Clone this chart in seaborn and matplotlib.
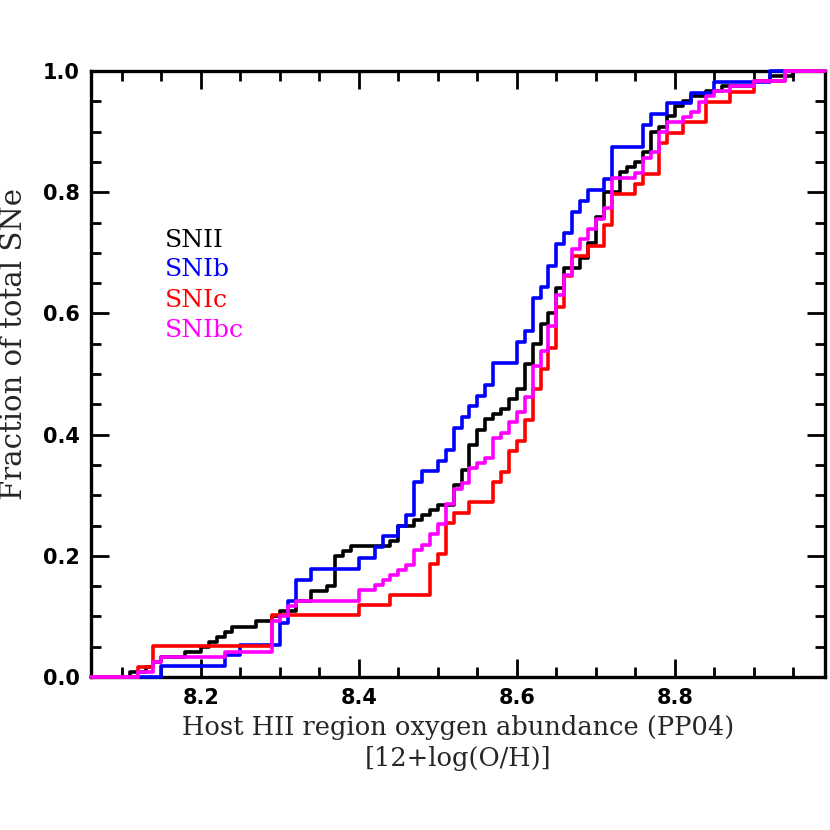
import numpy as np
import pandas as pd
import matplotlib
matplotlib.use("Agg")
import matplotlib.pyplot as plt
from matplotlib.ticker import MultipleLocator, FixedLocator
import seaborn as sns

# ---- data (abundance value, number of SNe at that value) ----
snii_vals = [8.11, 8.13, 8.14, 8.15, 8.18, 8.20, 8.21, 8.22, 8.23, 8.24, 8.27, 8.29, 8.30,
             8.32, 8.34, 8.36, 8.37, 8.38, 8.39, 8.44, 8.45, 8.47, 8.48, 8.49, 8.50, 8.52,
             8.53, 8.54, 8.55, 8.56, 8.57, 8.58, 8.59, 8.60, 8.61, 8.62, 8.63, 8.64, 8.65,
             8.66, 8.68, 8.69, 8.70, 8.71, 8.73, 8.74, 8.75, 8.76, 8.77, 8.78, 8.79, 8.80,
             8.81, 8.82, 8.84, 8.86, 8.90, 8.92, 8.95]
snii_counts = [1, 1, 1, 1, 1, 1, 1, 1, 1, 1, 1, 1, 1,
               2, 2, 1, 6, 1, 1, 1, 3, 1, 1, 1, 1, 4,
               3, 5, 3, 2, 1, 1, 2, 2, 5, 4, 4, 2, 5,
               4, 2, 3, 5, 5, 4, 1, 1, 2, 4, 1, 2, 2,
               1, 1, 1, 1, 1, 1, 1]

snib_vals = [8.15, 8.23, 8.25, 8.30, 8.31, 8.32, 8.34, 8.40, 8.42, 8.43, 8.45, 8.46, 8.47,
             8.48, 8.50, 8.51, 8.52, 8.53, 8.54, 8.55, 8.56, 8.57, 8.60, 8.61, 8.62, 8.63,
             8.64, 8.65, 8.66, 8.67, 8.68, 8.69, 8.71, 8.72, 8.76, 8.77, 8.79, 8.82, 8.85,
             8.92]
snib_counts = [1, 1, 1, 2, 2, 2, 1, 1, 1, 1, 1, 1, 3,
               1, 1, 1, 2, 1, 1, 1, 1, 2, 2, 1, 3, 1,
               2, 2, 1, 2, 1, 1, 1, 3, 2, 1, 1, 1, 1,
               1]

snic_vals = [8.12, 8.14, 8.29, 8.40, 8.44, 8.49, 8.50, 8.51, 8.52, 8.54, 8.57, 8.58, 8.59,
             8.60, 8.61, 8.62, 8.63, 8.64, 8.65, 8.66, 8.67, 8.69, 8.71, 8.72, 8.75, 8.76,
             8.78, 8.79, 8.81, 8.84, 8.87, 8.90, 8.94]
snic_counts = [1, 2, 3, 1, 1, 3, 1, 3, 1, 1, 2, 1, 2,
               1, 2, 3, 2, 2, 4, 3, 2, 1, 2, 3, 1, 1,
               3, 1, 1, 2, 1, 1, 1]

snibc_vals = [8.12, 8.14, 8.15, 8.23, 8.29, 8.30, 8.31, 8.32, 8.40, 8.42, 8.43, 8.44, 8.45,
              8.46, 8.47, 8.48, 8.49, 8.50, 8.51, 8.52, 8.53, 8.54, 8.55, 8.56, 8.57, 8.58,
              8.59, 8.60, 8.61, 8.62, 8.63, 8.64, 8.65, 8.66, 8.67, 8.68, 8.69, 8.70, 8.71,
              8.72, 8.75, 8.76, 8.77, 8.78, 8.79, 8.81, 8.82, 8.83, 8.84, 8.85, 8.87, 8.90,
              8.94]
snibc_counts = [1, 2, 1, 1, 6, 1, 2, 1, 2, 1, 1, 1, 1,
                1, 3, 1, 2, 2, 4, 3, 1, 3, 1, 1, 4, 1,
                2, 2, 3, 6, 3, 5, 6, 4, 5, 2, 2, 2, 2,
                6, 1, 3, 1, 4, 2, 1, 1, 2, 1, 1, 1, 1,
                2]

sn_types = ["SNII", "SNIb", "SNIc", "SNIbc"]
sn_colors = ["#000000", "#0000ff", "#ff0000", "#ff00ff"]

X_MIN, X_MAX = 8.061, 8.99

# ---- build long table ----
frames = []
for name, vals, cnts in [("SNII", snii_vals, snii_counts), ("SNIb", snib_vals, snib_counts),
                         ("SNIc", snic_vals, snic_counts), ("SNIbc", snibc_vals, snibc_counts)]:
    frames.append(pd.DataFrame({"abund": np.repeat(vals, cnts), "type": name}))
df = pd.concat(frames, ignore_index=True)

sns.set_style("ticks")
plt.rcParams["font.family"] = ["DejaVu Sans"]

fig = plt.figure(figsize=(8.3, 8.3), dpi=100)
ax = fig.add_axes([91 / 830, 1 - 677 / 830, (825 - 91) / 830, (677 - 71) / 830])

for i, (name, col) in enumerate(zip(sn_types, sn_colors)):
    sns.ecdfplot(data=df[df["type"] == name], x="abund", color=col, lw=2.6, ax=ax)
    line = ax.lines[-1]
    xd = np.asarray(line.get_xdata(), dtype=float).copy()
    yd = np.asarray(line.get_ydata(), dtype=float).copy()
    xd[~np.isfinite(xd)] = X_MIN
    # continue the final level to the right edge
    xd = np.r_[xd, X_MAX]
    yd = np.r_[yd, yd[-1]]
    line.set_data(xd, yd)
    line.set_clip_on(False)
    line.set_zorder(3 + i)

ax.set_xlim(X_MIN, X_MAX)
ax.set_ylim(0, 1.0)

ax.xaxis.set_major_locator(FixedLocator([8.2, 8.4, 8.6, 8.8]))
ax.xaxis.set_minor_locator(MultipleLocator(0.05))
ax.set_xticklabels(["8.2", "8.4", "8.6", "8.8"])
ax.set_yticks([0, 0.2, 0.4, 0.6, 0.8, 1.0])
ax.set_yticklabels(["0.0", "0.2", "0.4", "0.6", "0.8", "1.0"])
ax.yaxis.set_minor_locator(MultipleLocator(0.05))

ax.tick_params(which="both", direction="in", top=True, right=True, width=2, colors="black")
ax.tick_params(which="major", length=13, pad=8)
ax.tick_params(which="minor", length=7)
for lab in ax.get_xticklabels() + ax.get_yticklabels():
    lab.set_fontweight("bold")
    lab.set_fontsize(15)
for sp in ax.spines.values():
    sp.set_linewidth(2.4)
    sp.set_color("black")

ax.set_xlabel("Host HII region oxygen abundance (PP04)\n[12+log(O/H)]",
              family="DejaVu Serif", fontsize=18.5, labelpad=5, linespacing=1.3)
ax.set_ylabel("Fraction of total SNe", family="DejaVu Serif", fontsize=21)
ax.yaxis.set_label_coords(-0.086, 0.55)

legend_y = [0.721, 0.672, 0.622, 0.571]
for name, col, yy in zip(sn_types, sn_colors, legend_y):
    ax.text(8.155, yy, name, color=col, family="DejaVu Serif", fontsize=18, va="center", ha="left")

fig.savefig("out.png", dpi=100, facecolor="white")
